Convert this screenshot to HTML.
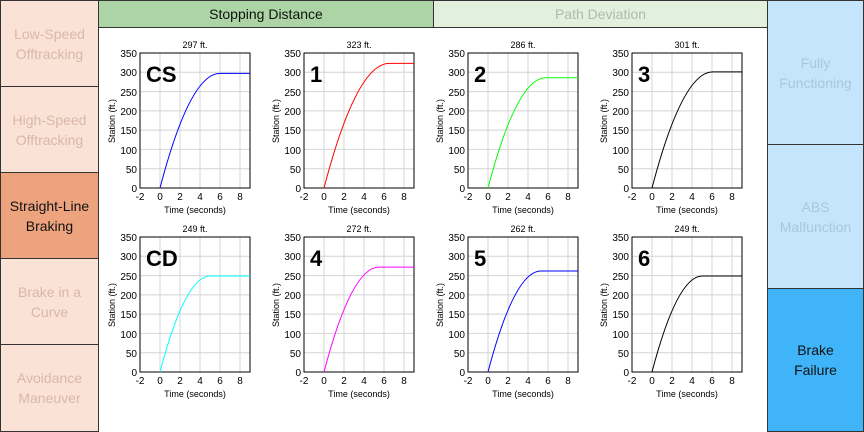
<!DOCTYPE html>
<html><head><style>
body{margin:0;width:864px;height:432px;overflow:hidden;background:#fff;font-family:"Liberation Sans",sans-serif;position:relative}
.b{position:absolute;box-sizing:border-box;border:1px solid #333;display:flex;align-items:center;justify-content:center;text-align:center;font-size:14px;line-height:20px}
.l{left:0;width:99px;height:87px;background:#fbe2d6;color:#d8b8a8}
.r{left:767px;width:97px;height:145px;background:#c4e5fb;color:#a8c8dc}
svg{position:absolute;left:0;top:0}
</style></head><body>
<div class="b l" style="top:0">Low-Speed<br>Offtracking</div>
<div class="b l" style="top:86px">High-Speed<br>Offtracking</div>
<div class="b l" style="top:172px;background:#eda47e;color:#111">Straight-Line<br>Braking</div>
<div class="b l" style="top:258px">Brake in a<br>Curve</div>
<div class="b l" style="top:344px;height:88px">Avoidance<br>Maneuver</div>
<div class="b" style="left:98px;top:0;width:336px;height:28px;background:#acd4a4;color:#111">Stopping Distance</div>
<div class="b" style="left:433px;top:0;width:335px;height:28px;background:#e2f0de;color:#b0b8b0">Path Deviation</div>
<div class="b r" style="top:0">Fully<br>Functioning</div>
<div class="b r" style="top:144px">ABS<br>Malfunction</div>
<div class="b r" style="top:288px;height:144px;background:#40b4f8;color:#111">Brake<br>Failure</div>
<svg width="864" height="432" font-family="Liberation Sans, sans-serif" font-size="10">
<defs>
<g id="ax">
<g stroke="#d4d4d4" stroke-width="1">
<line x1="20" y1="0" x2="20" y2="-135"/><line x1="40" y1="0" x2="40" y2="-135"/><line x1="60" y1="0" x2="60" y2="-135"/><line x1="80" y1="0" x2="80" y2="-135"/><line x1="100" y1="0" x2="100" y2="-135"/>
<line x1="0" y1="-19.3" x2="110" y2="-19.3"/><line x1="0" y1="-38.6" x2="110" y2="-38.6"/><line x1="0" y1="-57.9" x2="110" y2="-57.9"/><line x1="0" y1="-77.1" x2="110" y2="-77.1"/><line x1="0" y1="-96.4" x2="110" y2="-96.4"/><line x1="0" y1="-115.7" x2="110" y2="-115.7"/>
</g>
<rect x="0" y="-135" width="110" height="135" fill="none" stroke="#000"/>
<g text-anchor="end">
<text x="-3" y="4">0</text><text x="-3" y="-15">50</text><text x="-3" y="-34">100</text><text x="-3" y="-54">150</text><text x="-3" y="-73">200</text><text x="-3" y="-92">250</text><text x="-3" y="-112">300</text><text x="-3" y="-131">350</text>
</g>
<g text-anchor="middle">
<text x="0" y="12">-2</text><text x="20" y="12">0</text><text x="40" y="12">2</text><text x="60" y="12">4</text><text x="80" y="12">6</text><text x="100" y="12">8</text>
<text x="55" y="25" font-size="9">Time (seconds)</text>
</g>
<text transform="translate(-25,-67) rotate(-90)" text-anchor="middle" font-size="9">Station (ft.)</text>
</g>
</defs>
<!-- row 1 -->
<g transform="translate(140,188)"><use href="#ax"/><text x="55" y="-140" text-anchor="middle" font-size="9">297 ft.</text><text x="6" y="-106" font-size="22" font-weight="bold">CS</text>
<path d="M20 0 Q50 -114.6 80 -114.6 L110 -114.6" fill="none" stroke="#00f"/></g>
<g transform="translate(304,188)"><use href="#ax"/><text x="55" y="-140" text-anchor="middle" font-size="9">323 ft.</text><text x="6" y="-106" font-size="22" font-weight="bold">1</text>
<path d="M20 0 Q52.6 -124.6 85.3 -124.6 L110 -124.6" fill="none" stroke="#f00"/></g>
<g transform="translate(468,188)"><use href="#ax"/><text x="55" y="-140" text-anchor="middle" font-size="9">286 ft.</text><text x="6" y="-106" font-size="22" font-weight="bold">2</text>
<path d="M20 0 Q48.9 -110.3 77.8 -110.3 L110 -110.3" fill="none" stroke="#0f0"/></g>
<g transform="translate(632,188)"><use href="#ax"/><text x="55" y="-140" text-anchor="middle" font-size="9">301 ft.</text><text x="6" y="-106" font-size="22" font-weight="bold">3</text>
<path d="M20 0 Q50.4 -116.1 80.8 -116.1 L110 -116.1" fill="none" stroke="#000"/></g>
<!-- row 2 -->
<g transform="translate(140,372)"><use href="#ax"/><text x="55" y="-140" text-anchor="middle" font-size="9">249 ft.</text><text x="6" y="-106" font-size="22" font-weight="bold">CD</text>
<path d="M20 0 Q45.2 -96 70.3 -96 L110 -96" fill="none" stroke="#0ff"/></g>
<g transform="translate(304,372)"><use href="#ax"/><text x="55" y="-140" text-anchor="middle" font-size="9">272 ft.</text><text x="6" y="-106" font-size="22" font-weight="bold">4</text>
<path d="M20 0 Q47.5 -104.9 75 -104.9 L110 -104.9" fill="none" stroke="#f0f"/></g>
<g transform="translate(468,372)"><use href="#ax"/><text x="55" y="-140" text-anchor="middle" font-size="9">262 ft.</text><text x="6" y="-106" font-size="22" font-weight="bold">5</text>
<path d="M20 0 Q46.5 -101 73 -101 L110 -101" fill="none" stroke="#00f"/></g>
<g transform="translate(632,372)"><use href="#ax"/><text x="55" y="-140" text-anchor="middle" font-size="9">249 ft.</text><text x="6" y="-106" font-size="22" font-weight="bold">6</text>
<path d="M20 0 Q45.2 -96 70.3 -96 L110 -96" fill="none" stroke="#000"/></g>
</svg>
</body></html>
